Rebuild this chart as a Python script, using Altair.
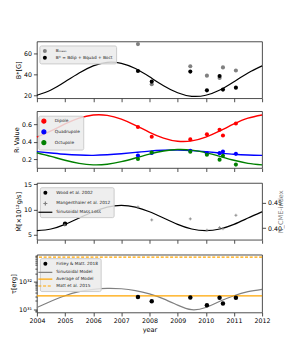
import altair as alt
import pandas as pd

# ---------------- data ----------------
obs_years = [2007.59, 2008.08, 2009.45, 2010.04, 2010.49, 2010.61, 2011.07]
b_mean = [69.0, 30.4, 47.7, 38.7, 36.5, 46.6, 43.6]
b_star = [43.2, 33.0, 42.6, 24.6, 38.4, 25.3, 27.2]

r_dip = [0.567, 0.457, 0.427, 0.484, 0.536, 0.472, 0.607]
r_quad = [0.244, 0.272, 0.297, 0.271, 0.271, 0.289, 0.263]
r_oct = [0.204, 0.278, 0.286, 0.252, 0.197, 0.241, 0.141]

wood_year = [2005.0]
wood_mdot = [7.18]
mang_years = [2004.99, 2007.59, 2008.08, 2009.45, 2010.04, 2010.49, 2010.61, 2011.07]
mang_n = [0.406, 0.441, 0.416, 0.418, 0.396, 0.401, 0.399, 0.425]

finley_tau = [2.8e31, 1.94e31, 2.65e31, 1.4e31, 2.6e31, 1.6e31, 2.6e31]
avg_tau = [3.05e31]
matt_tau = [7.8e32]

curve_years = [2004.0, 2004.5, 2005.0, 2005.5, 2006.0, 2006.5, 2007.0, 2007.5, 2008.0,
               2008.5, 2009.0, 2009.5, 2010.0, 2010.5, 2011.0, 2011.5, 2012.0]
b_curve = [19.9, 24.9, 32.8, 41.3, 48.1, 51.5, 50.5, 45.5, 37.6, 29.1, 22.3, 18.9,
           19.9, 24.9, 32.8, 41.3, 48.1]
dip_curve = [0.453, 0.523, 0.602, 0.668, 0.704, 0.700, 0.657, 0.587, 0.508, 0.442,
             0.406, 0.410, 0.453, 0.523, 0.602, 0.668, 0.704]
quad_curve = [0.288, 0.273, 0.258, 0.249, 0.246, 0.252, 0.264, 0.279, 0.294, 0.303,
              0.306, 0.300, 0.288, 0.273, 0.258, 0.249, 0.246]
oct_curve = [0.276, 0.234, 0.190, 0.155, 0.138, 0.145, 0.174, 0.216, 0.260, 0.295,
             0.312, 0.305, 0.276, 0.234, 0.190, 0.155, 0.138]
mdot_curve = [5.8, 6.13, 7.05, 8.3, 9.55, 10.47, 10.8, 10.47, 9.55, 8.3, 7.05, 6.13,
              5.8, 6.13, 7.05, 8.3, 9.55]
tau_curve = [1.16e31, 1.94e31, 3.10e31, 4.33e31, 5.29e31, 5.74e31, 5.54e31, 4.76e31,
             3.60e31, 2.37e31, 1.41e31, 0.96e31, 1.16e31, 1.94e31, 3.10e31, 4.33e31, 5.29e31]

x_ticks = [2004, 2005, 2006, 2007, 2008, 2009, 2010, 2011, 2012]
tau_ticks = [8e30, 9e30, 1e31, 2e31, 3e31, 4e31, 5e31, 6e31, 7e31, 8e31, 9e31,
             1e32, 2e32, 3e32, 4e32, 5e32, 6e32, 7e32, 8e32, 9e32]

# ---------------- styling ----------------
FONT = "DejaVu Sans"
W, H = 226, 57
LINE = "M-3.5,0H3.5"
PLUS = "M-1,0H1M0,-1V1"


def xenc(bottom):
    if bottom:
        ax = alt.Axis(values=x_ticks, format="d", title="year", labelFlush=False)
    else:
        ax = alt.Axis(values=x_ticks, labels=False, title=None)
    return alt.X("year:Q", scale=alt.Scale(domain=[2004, 2012], nice=False, zero=False), axis=ax)


# ---------------- panel 1 ----------------
lab_mean = "Bₘₑₐₙ"
lab_star = "B* = Bdip + Bquad + Boct"
s1_dom = [lab_mean, lab_star]
df1 = pd.DataFrame({"year": obs_years + obs_years, "B": b_mean + b_star,
                    "s1": [lab_mean] * len(obs_years) + [lab_star] * len(obs_years)})
c1 = pd.DataFrame({"year": curve_years, "B": b_curve})
leg1 = alt.Legend(title=None, orient="none", legendX=2.5, legendY=4, symbolType="circle")
y1 = alt.Y("B:Q", scale=alt.Scale(domain=[17, 71.5], nice=False, zero=False),
           axis=alt.Axis(values=[20, 40, 60], title="B*[G]"))
line1 = alt.Chart(c1).mark_line(color="black", strokeWidth=1.2, interpolate="natural").encode(
    x=xenc(False), y=y1)
pts1 = alt.Chart(df1).mark_point(filled=True, size=17, opacity=1).encode(
    x=xenc(False), y=y1,
    fill=alt.Fill("s1:N", scale=alt.Scale(domain=s1_dom, range=["#808080", "#000000"]), legend=leg1))
p1 = alt.layer(line1, pts1).properties(width=W, height=H)

# ---------------- panel 2 ----------------
s2_dom = ["Dipole", "Quadrupole", "Octupole"]
s2_col = ["#ff0000", "#0000ff", "#008000"]
n = len(obs_years)
df2 = pd.DataFrame({"year": obs_years * 3, "R": r_dip + r_quad + r_oct,
                    "s2": ["Dipole"] * n + ["Quadrupole"] * n + ["Octupole"] * n})
m = len(curve_years)
c2 = pd.DataFrame({"year": curve_years * 3, "R": dip_curve + quad_curve + oct_curve,
                   "s2": ["Dipole"] * m + ["Quadrupole"] * m + ["Octupole"] * m})
leg2 = alt.Legend(title=None, orient="none", legendX=1.5, legendY=4.5, symbolType="circle")
y2 = alt.Y("R:Q", scale=alt.Scale(domain=[0.102, 0.747], nice=False, zero=False),
           axis=alt.Axis(values=[0.2, 0.4, 0.6], format=".1f", title="Rₗ Value"))
sc2 = alt.Scale(domain=s2_dom, range=s2_col)
line2 = alt.Chart(c2).mark_line(strokeWidth=1.4, interpolate="natural").encode(
    x=xenc(False), y=y2, stroke=alt.Stroke("s2:N", scale=sc2, legend=leg2))
pts2 = alt.Chart(df2).mark_point(filled=True, size=17, opacity=1).encode(
    x=xenc(False), y=y2, fill=alt.Fill("s2:N", scale=sc2, legend=leg2))
p2 = alt.layer(line2, pts2).properties(width=W, height=H)

# ---------------- panel 3 ----------------
s3_dom = ["Wood et al. 2002", "Mangenthaler et al. 2012", "Sinusoidal Mass Loss"]
leg3 = alt.Legend(title=None, orient="none", legendX=3, legendY=4.3)
fill3 = alt.Scale(domain=s3_dom, range=["black", "transparent", "transparent"])
stroke3 = alt.Scale(domain=s3_dom, range=["transparent", "#808080", "black"])
shape3 = alt.Scale(domain=s3_dom, range=["circle", PLUS, LINE])
c3 = pd.DataFrame({"year": curve_years, "M": mdot_curve, "s3": [s3_dom[2]] * m})
dw = pd.DataFrame({"year": wood_year, "M": wood_mdot, "s3": [s3_dom[0]]})
dm = pd.DataFrame({"year": mang_years, "N": mang_n, "s3": [s3_dom[1]] * len(mang_years)})
mscale = alt.Scale(domain=[4.0, 15.25], nice=False, zero=False)
line3 = alt.Chart(c3).mark_line(strokeWidth=1.2, interpolate="natural").encode(
    x=xenc(False),
    y=alt.Y("M:Q", scale=mscale, axis=alt.Axis(values=[5, 10, 15], title="Ṁ[×10¹²g/s]")),
    stroke=alt.Stroke("s3:N", scale=stroke3, legend=leg3))
wood = alt.Chart(dw).mark_point(filled=True, size=20, opacity=1).encode(
    x=xenc(False), y=alt.Y("M:Q", scale=mscale, axis=None),
    fill=alt.Fill("s3:N", scale=fill3, legend=leg3),
    stroke=alt.Stroke("s3:N", scale=stroke3, legend=leg3),
    shape=alt.Shape("s3:N", scale=shape3, legend=leg3))
mang = alt.Chart(dm).mark_point(size=9, opacity=1, strokeWidth=0.8).encode(
    x=xenc(False),
    y=alt.Y("N:Q", scale=alt.Scale(domain=[0.3775, 0.4877], nice=False, zero=False),
            axis=alt.Axis(orient="right", values=[0.40, 0.45], format=".2f", title="N_CME-index",
                          titleColor="#808080", titleAngle=270)),
    fill=alt.Fill("s3:N", scale=fill3, legend=leg3),
    stroke=alt.Stroke("s3:N", scale=stroke3, legend=leg3),
    shape=alt.Shape("s3:N", scale=shape3, legend=leg3))
p3 = alt.layer(line3, wood, mang).resolve_scale(y="independent").properties(width=W, height=H)

# ---------------- panel 4 ----------------
s4_dom = ["Finley & Matt. 2018", "Sinusoidal Model", "Average of Model", "Matt et al. 2015"]
leg4 = alt.Legend(title=None, orient="none", legendX=3, legendY=3.5)
fill4 = alt.Scale(domain=s4_dom, range=["black", "transparent", "transparent", "transparent"])
stroke4 = alt.Scale(domain=s4_dom, range=["transparent", "#808080", "#ffa500", "#ffa500"])
shape4 = alt.Scale(domain=s4_dom, range=["circle", LINE, LINE, LINE])
dash4 = alt.Scale(domain=s4_dom, range=[[1, 0], [1, 0], [1, 0], [3, 1.7]])
tscale = alt.Scale(type="log", domain=[7.6e30, 9.6e32], nice=False)
y4 = alt.Y("tau:Q", scale=tscale,
           axis=alt.Axis(values=tau_ticks, title="τ[erg]", labelOverlap=False,
                         labelExpr="datum.value == 1e31 ? '10³¹' : (datum.value == 1e32 ? '10³²' : '')",
                         tickSize={"condition": {"test": "datum.value == 1e31 || datum.value == 1e32",
                                                 "value": 3.5}, "value": 2}))
c4 = pd.DataFrame({"year": curve_years, "tau": tau_curve, "s4": [s4_dom[1]] * m})
dr = pd.DataFrame({"tau": avg_tau + matt_tau, "s4": [s4_dom[2], s4_dom[3]]})
df4 = pd.DataFrame({"year": obs_years, "tau": finley_tau, "s4": [s4_dom[0]] * n})
line4 = alt.Chart(c4).mark_line(strokeWidth=1.2, interpolate="natural").encode(
    x=xenc(True), y=y4, stroke=alt.Stroke("s4:N", scale=stroke4, legend=leg4))
rules4 = alt.Chart(dr).mark_rule(strokeWidth=1.2).encode(
    y=y4, stroke=alt.Stroke("s4:N", scale=stroke4, legend=leg4),
    strokeDash=alt.StrokeDash("s4:N", scale=dash4, legend=leg4))
pts4 = alt.Chart(df4).mark_point(filled=True, size=20, opacity=1).encode(
    x=xenc(True), y=y4,
    fill=alt.Fill("s4:N", scale=fill4, legend=leg4),
    stroke=alt.Stroke("s4:N", scale=stroke4, legend=leg4),
    shape=alt.Shape("s4:N", scale=shape4, legend=leg4))
p4 = alt.layer(line4, rules4, pts4).properties(width=W, height=H + 1)

chart = alt.vconcat(p1, p2, p3, p4, spacing=7).resolve_scale(
    x="independent", y="independent", fill="independent", stroke="independent",
    shape="independent", strokeDash="independent"
).properties(
    padding={"left": 2, "top": 32, "right": 0, "bottom": 0}
).configure(font=FONT).configure_view(
    stroke="#222222", strokeWidth=0.8
).configure_axis(
    domain=False, grid=False, tickColor="#222222", tickWidth=0.8, tickSize=3.5,
    labelFont=FONT, titleFont=FONT, labelFontSize=6.3, titleFontSize=6.6,
    titleFontWeight="normal", labelPadding=2, titlePadding=2,
    labelColor="black", titleColor="black"
).configure_legend(
    labelFont=FONT, labelFontSize=4.3, labelColor="#222222", padding=2.5, rowPadding=0.8,
    symbolSize=16, symbolStrokeWidth=1.2, labelOffset=8,
    fillColor="rgba(235,235,235,0.85)", strokeColor="#cccccc", cornerRadius=1.5
)

chart.save("out.html", embed_options={"renderer": "svg", "actions": False})
